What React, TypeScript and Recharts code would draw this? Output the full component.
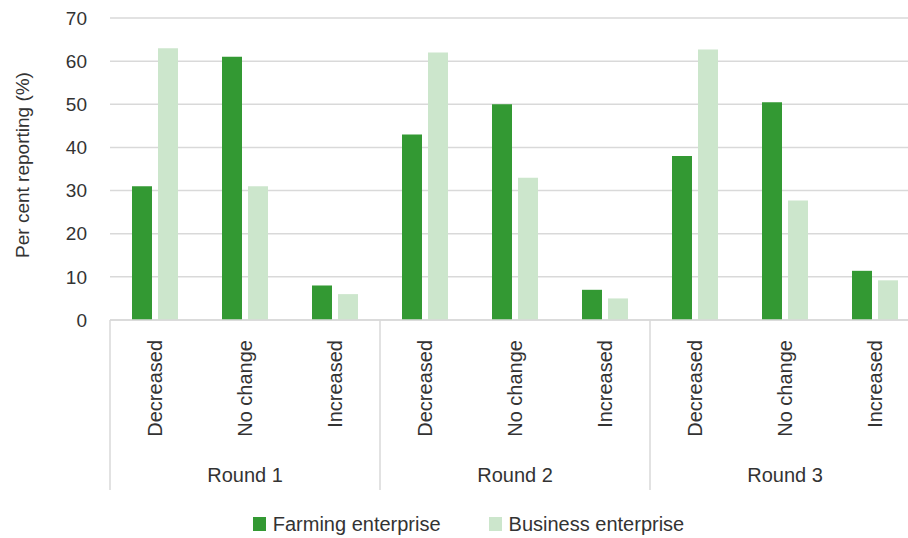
import React from "react";
import {
  BarChart,
  Bar,
  XAxis,
  YAxis,
  CartesianGrid,
  Legend,
} from "recharts";

// values, per round x change category
const rounds = ["Round 1", "Round 2", "Round 3"];
const changes = ["Decreased", "No change", "Increased"];
const farming = [31, 61, 8, 43, 50, 7, 38, 50.5, 11.4];
const business = [63, 31, 6, 62, 33, 5, 62.7, 27.7, 9.2];
const yTicks = [0, 10, 20, 30, 40, 50, 60, 70];

const FARM = "#339933";
const BUSINESS = "#cce6cc";
const GRID = "#d9d9d9";
const TEXT = "#333333";
const FONT = "'Liberation Sans', Arial, sans-serif";

const CHART_W = 930;
const CHART_H = 538;
const TOP = 18;
const PLOT_H = 302;
const AXIS_Y = TOP + PLOT_H;

const data = rounds.flatMap((r, ri) =>
  changes.map((c, ci) => ({
    round: r,
    change: c,
    farming: farming[ri * 3 + ci],
    business: business[ri * 3 + ci],
  }))
);

function ChangeTick({ x = 0, payload }: any) {
  return (
    <text
      transform={`translate(${x},${AXIS_Y + 20}) rotate(-90)`}
      textAnchor="end"
      dominantBaseline="central"
      fill={TEXT}
      fontSize={20}
      fontFamily={FONT}
    >
      {payload.value}
    </text>
  );
}

function RoundTick({ x = 0, payload }: any) {
  const i = payload.index;
  const half = payload.offset ?? 45;
  return (
    <g>
      {i % 3 === 0 && (
        <line x1={x - half} x2={x - half} y1={AXIS_Y} y2={AXIS_Y + 170} stroke={GRID} strokeWidth={1.5} />
      )}
      {i === data.length - 1 && (
        <line x1={x + half} x2={x + half} y1={AXIS_Y} y2={AXIS_Y + 170} stroke={GRID} strokeWidth={1.5} />
      )}
      {i % 3 === 1 && (
        <text
          x={x}
          y={AXIS_Y + 155}
          textAnchor="middle"
          dominantBaseline="central"
          fill={TEXT}
          fontSize={20}
          fontFamily={FONT}
        >
          {payload.value}
        </text>
      )}
    </g>
  );
}

function YLabel({ viewBox }: any) {
  const cy = viewBox.y + viewBox.height / 2 - 4;
  return (
    <text
      transform={`translate(22,${cy}) rotate(-90)`}
      textAnchor="middle"
      dominantBaseline="central"
      fill={TEXT}
      fontSize={19}
      fontFamily={FONT}
    >
      Per cent reporting (%)
    </text>
  );
}

function LegendContent() {
  const items = [
    { name: "Farming enterprise", color: FARM },
    { name: "Business enterprise", color: BUSINESS },
  ];
  return (
    <div style={{ display: "flex", justifyContent: "center", height: 28, alignItems: "center" }}>
      {items.map((it, i) => (
        <div
          key={it.name}
          style={{ display: "flex", alignItems: "center", marginLeft: i ? 48 : 0 }}
        >
          <div style={{ width: 13, height: 14, background: it.color, marginRight: 7 }} />
          <span style={{ fontFamily: FONT, fontSize: 20, color: TEXT }}>{it.name}</span>
        </div>
      ))}
    </div>
  );
}

export default function App() {
  return (
    <div
      style={{
        position: "fixed",
        top: 0,
        left: 0,
        width: 908,
        height: 538,
        overflow: "hidden",
        background: "#fff",
      }}
    >
      <BarChart
        width={CHART_W}
        height={CHART_H}
        data={data}
        margin={{ top: TOP, right: 10, left: 0, bottom: 20 }}
        barSize={20}
        barGap={6}
      >
        <CartesianGrid vertical={false} stroke={GRID} strokeWidth={1.5} />
        <XAxis
          dataKey="change"
          interval={0}
          height={130}
          tick={<ChangeTick />}
          tickLine={false}
          axisLine={{ stroke: GRID, strokeWidth: 1.5 }}
        />
        <XAxis
          xAxisId="round"
          dataKey="round"
          interval={0}
          height={40}
          tick={<RoundTick />}
          tickLine={false}
          axisLine={false}
        />
        <YAxis
          width={110}
          domain={[0, 70]}
          ticks={yTicks}
          interval={0}
          tickLine={false}
          axisLine={false}
          tickMargin={17}
          tick={{ fill: TEXT, fontSize: 19, fontFamily: FONT }}
          label={<YLabel />}
        />
        <Legend
          verticalAlign="bottom"
          content={<LegendContent />}
          wrapperStyle={{ left: 0, width: 937, bottom: 0 }}
        />
        <Bar dataKey="farming" name="Farming enterprise" fill={FARM} isAnimationActive={false} />
        <Bar dataKey="business" name="Business enterprise" fill={BUSINESS} isAnimationActive={false} />
      </BarChart>
    </div>
  );
}
